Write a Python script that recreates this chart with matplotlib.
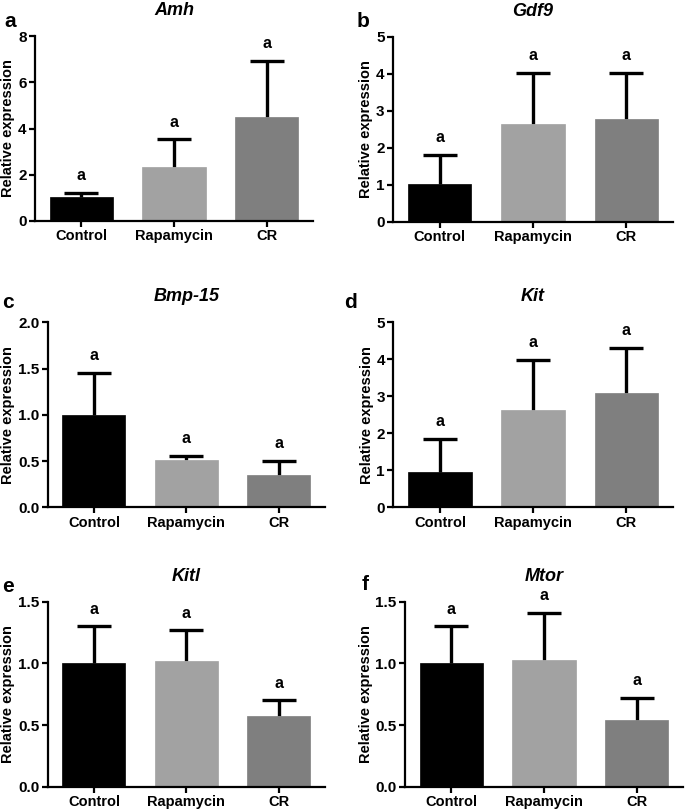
import matplotlib
matplotlib.use("Agg")
import matplotlib.pyplot as plt
import numpy as np

plt.rcParams['font.family'] = ['Liberation Sans', 'DejaVu Sans']
plt.rcParams['font.weight'] = 'bold'

groups = ["Control", "Rapamycin", "CR"]
bar_colors = ["#000000", "#a2a2a2", "#7f7f7f"]

genes = ["Amh", "Gdf9", "Bmp-15", "Kit", "Kitl", "Mtor"]
letters = ["a", "b", "c", "d", "e", "f"]
sig = ["a", "a", "a"]

amh_mean = [1.02, 2.34, 4.50]
amh_err = [0.21, 1.19, 2.44]
gdf9_mean = [1.01, 2.65, 2.78]
gdf9_err = [0.80, 1.38, 1.24]
bmp15_mean = [1.00, 0.51, 0.35]
bmp15_err = [0.45, 0.045, 0.15]
kit_mean = [0.95, 2.62, 3.09]
kit_err = [0.90, 1.37, 1.22]
kitl_mean = [1.00, 1.017, 0.576]
kitl_err = [0.30, 0.25, 0.125]
mtor_mean = [1.00, 1.03, 0.54]
mtor_err = [0.30, 0.38, 0.18]

means = [amh_mean, gdf9_mean, bmp15_mean, kit_mean, kitl_mean, mtor_mean]
errs = [amh_err, gdf9_err, bmp15_err, kit_err, kitl_err, mtor_err]
yticks = [[0, 2, 4, 6, 8], [0, 1, 2, 3, 4, 5], [0.0, 0.5, 1.0, 1.5, 2.0],
          [0, 1, 2, 3, 4, 5], [0.0, 0.5, 1.0, 1.5], [0.0, 0.5, 1.0, 1.5]]
ytick_fmt = ["{:.0f}", "{:.0f}", "{:.1f}", "{:.0f}", "{:.1f}", "{:.1f}"]

W, H = 685, 810
fig = plt.figure(figsize=(W / 100, H / 100), dpi=100)

# axes boxes in pixels: left, right, top, bottom
boxes = [(35, 313, 36, 221), (393, 673, 37, 221.7),
         (47.7, 325, 322.3, 507.3), (393.3, 673, 322.3, 507.3),
         (47.7, 325, 601.7, 786.7), (405, 683, 601.7, 786.7)]
letter_pos = [(4, 27), (357, 27), (2, 308), (344, 308), (2, 592), (362, 590)]

for i, (l, r, t, b) in enumerate(boxes):
    ax = fig.add_axes([l / W, 1 - b / H, (r - l) / W, (b - t) / H])
    x = np.arange(len(groups))
    ax.bar(x, means[i], width=0.68, color=bar_colors, edgecolor=bar_colors, linewidth=0.5, zorder=2)
    lower = np.zeros(len(groups))
    eb = ax.errorbar(x, means[i], yerr=[lower, errs[i]], fmt='none', ecolor='black',
                     elinewidth=2.4, capsize=12.5, capthick=2.4, zorder=1)
    eb[1][0].set_visible(False)
    for xi, m, e in zip(x, means[i], errs[i]):
        ax.annotate(sig[int(xi)], (xi, m + e), xytext=(0, 7), textcoords='offset points',
                    ha='center', va='bottom', fontsize=11.5, fontweight='bold')
    ax.set_xlim(-0.5, 2.5)
    ax.set_ylim(yticks[i][0], yticks[i][-1])
    ax.set_yticks(yticks[i])
    ax.set_yticklabels([ytick_fmt[i].format(v) for v in yticks[i]], fontsize=11, fontweight='bold')
    ax.set_xticks(x)
    ax.set_xticklabels(groups, fontsize=10.5, fontweight='bold')
    ax.set_ylabel("Relative expression", fontsize=10.5, fontweight='bold', labelpad=2)
    ax.set_title(genes[i], fontsize=13, fontweight='bold', style='italic', pad=15)
    for s in ['top', 'right']:
        ax.spines[s].set_visible(False)
    for s in ['left', 'bottom']:
        ax.spines[s].set_linewidth(1.6)
    ax.tick_params(axis='both', direction='out', length=4, width=1.6, pad=2)
    fig.text(letter_pos[i][0] / W, 1 - letter_pos[i][1] / H, letters[i], fontsize=15,
             fontweight='bold', ha='left', va='baseline')

fig.savefig("out.png", dpi=100)
